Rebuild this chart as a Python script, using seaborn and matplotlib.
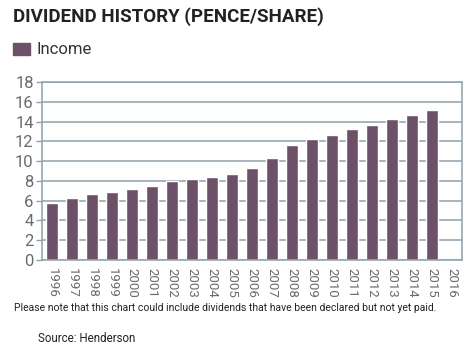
import numpy as np
import pandas as pd
import seaborn as sns
import matplotlib.pyplot as plt

years = [str(y) for y in range(1996, 2017)]
income = [5.8, 6.25, 6.7, 6.9, 7.2, 7.5, 8.0, 8.15, 8.4, 8.65,
          9.3, 10.3, 11.6, 12.25, 12.65, 13.2, 13.7, 14.25, 14.65, 15.2, np.nan]

bar_col = '#6d5169'
grid_col = '#8fa1ab'
txt_col = '#6b6b6b'

df = pd.DataFrame({'year': years, 'income': income})

sns.set_style('white')
plt.rcParams['font.family'] = ['Roboto', 'DejaVu Sans']

fig = plt.figure(figsize=(4.75, 3.54), dpi=100)
ax = fig.add_axes([0.0884, 0.2655, 0.8842, 0.5029])

sns.barplot(data=df, x='year', y='income', order=years, color=bar_col,
            saturation=1, width=0.58, ax=ax)

ax.set_ylim(0, 18)
ax.set_xlim(-0.5, len(years) - 0.5)
ax.set_yticks(range(0, 19, 2))
ax.yaxis.grid(True, color=grid_col, lw=1.1)
ax.set_axisbelow(True)
for s in ax.spines.values():
    s.set_color(grid_col)
    s.set_linewidth(1.1)
ax.set_xlabel('')
ax.set_ylabel('')
ax.tick_params(axis='y', left=True, length=4, width=1, color=grid_col,
               labelsize=12, labelcolor=txt_col, pad=2)
ax.tick_params(axis='x', bottom=False, labelsize=9.5, labelcolor=txt_col, pad=2)
for lab in ax.get_xticklabels():
    lab.set_rotation(270)

fig.text(0.027, 0.952, 'DIVIDEND HISTORY (PENCE/SHARE)', fontsize=13.5,
         fontweight='bold', color='#222222', va='center', ha='left')
fig.patches.append(plt.Rectangle((13 / 475, 1 - 55 / 354), 17 / 475, 12 / 354,
                                 transform=fig.transFigure, color=bar_col))
fig.text(36 / 475, 1 - 50 / 354, 'Income', fontsize=12, color='#333333',
         va='center', ha='left')
fig.text(14 / 475, 1 - 308 / 354,
         'Please note that this chart could include dividends that have been declared but not yet paid.',
         fontsize=7.5, color='#222222', va='center', ha='left')
fig.text(38 / 475, 1 - 338 / 354, 'Source: Henderson', fontsize=8.3,
         color='#222222', va='center', ha='left')

fig.savefig('out.png', dpi=100)
